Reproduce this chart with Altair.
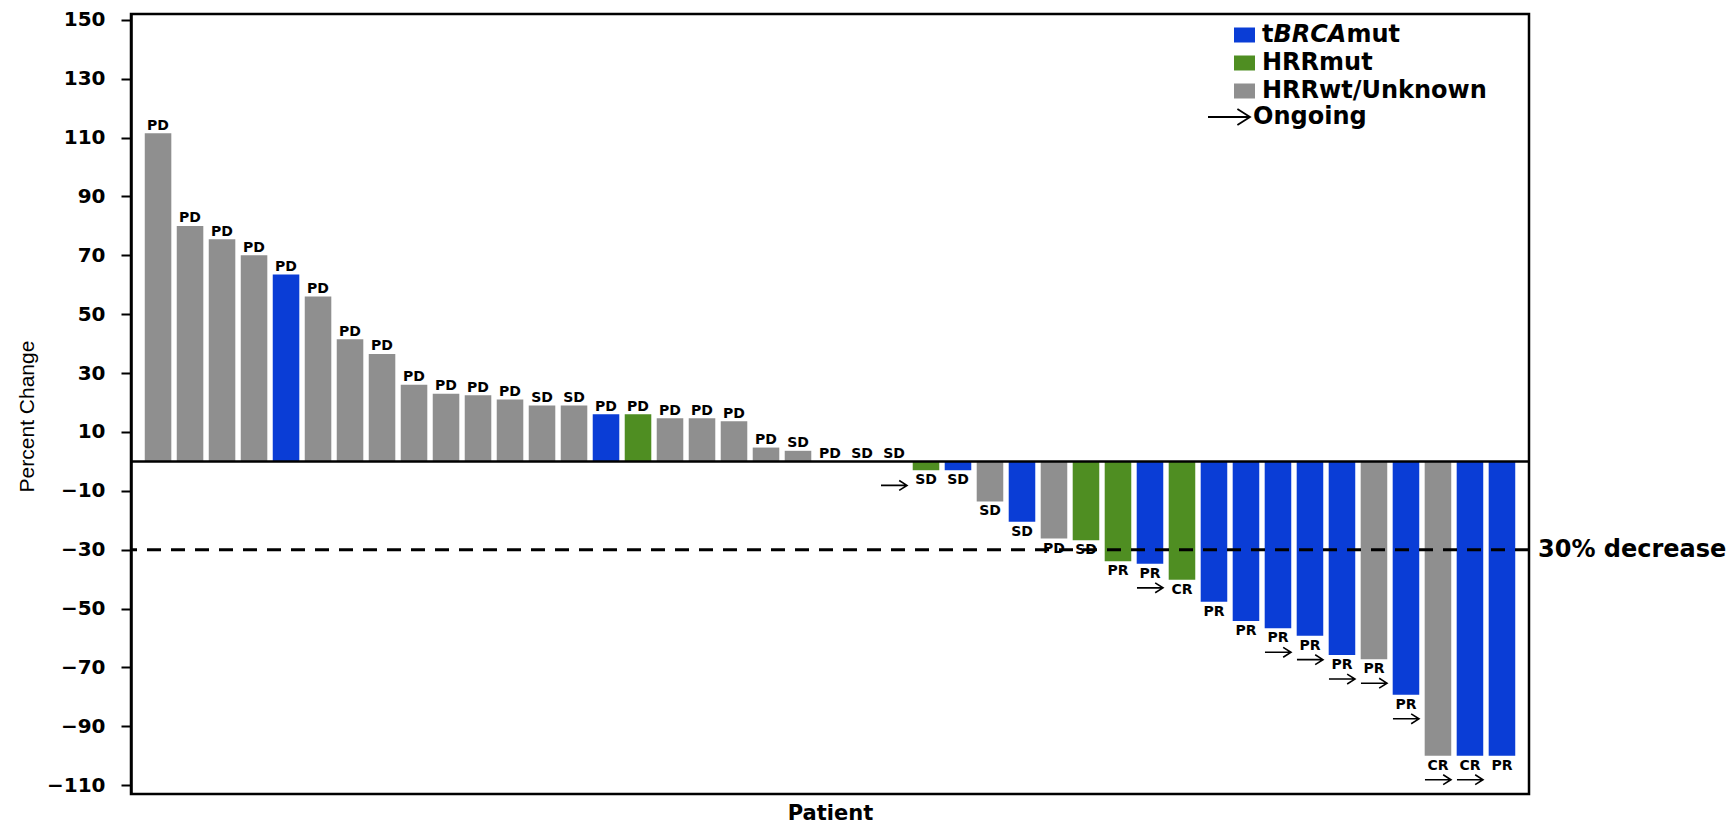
import altair as alt
import pandas as pd

# ---------------- data ----------------
patients = list(range(1, 44))
pct_change = [111.5, 80, 75.5, 70, 63.5, 56, 41.5, 36.5, 26, 23,
              22.5, 21, 19, 19, 16, 16, 14.7, 14.7, 13.6, 4.7,
              3.6, 0, 0, 0, -3, -3, -13.6, -20.5, -26.2, -26.8,
              -33.9, -34.8, -40.2, -47.7, -54.2, -56.7, -59.2, -65.8, -67.2, -79.3,
              -100, -100, -100]
B, G, U = "tBRCAmut", "HRRmut", "HRRwt/Unknown"
status = [U, U, U, U, B, U, U, U, U, U,
          U, U, U, U, B, G, U, U, U, U,
          U, U, U, U, G, B, U, B, U, G,
          G, B, G, B, B, B, B, B, U, B,
          U, B, B]
response = (["PD"] * 12 + ["SD", "SD"] + ["PD"] * 6 +
            ["SD", "PD", "SD", "SD", "SD", "SD", "SD", "SD", "PD", "SD", "PR", "PR", "CR"] +
            ["PR"] * 7 + ["CR", "CR", "PR"])
ongoing_patients = [24, 32, 36, 37, 38, 39, 40, 41, 42]

group_names = [B, G, U]
group_colors = ["#0a3dd6", "#4f8e22", "#8f8f8f"]
y_ticks = [150, 130, 110, 90, 70, 50, 30, 10, -10, -30, -50, -70, -90, -110]
threshold = [-30]
zero = [0]

df = pd.DataFrame({
    "patient": patients,
    "value": pct_change,
    "group": status,
    "response": response,
    "ongoing": [p in ongoing_patients for p in patients],
})

W, H = 1398, 780
FONT = "DejaVu Sans"

xenc = alt.X("patient:O",
             scale=alt.Scale(paddingInner=0.17, paddingOuter=0.43),
             axis=alt.Axis(labels=False, ticks=False, domain=False, title="Patient",
                           titleFont=FONT, titleFontSize=21, titleFontWeight="bold",
                           titleColor="black", titleY=19, titleBaseline="middle"))
yscale = alt.Scale(domain=[-113, 152], nice=False, zero=False)
yenc = alt.Y("value:Q", scale=yscale,
             axis=alt.Axis(values=y_ticks, grid=False, title="Percent Change",
                           labelFont=FONT, labelFontSize=20, labelFontWeight="bold",
                           labelColor="black", labelPadding=16,
                           tickSize=10, tickWidth=2, tickColor="black",
                           domainColor="black", domainWidth=2.5,
                           titleFont="Liberation Sans", titleFontSize=21,
                           titleFontWeight="normal", titleColor="black",
                           titleX=-104, titleY=402, titleAlign="center",
                           titleBaseline="middle", titleAngle=-90))
color = alt.Color("group:N", scale=alt.Scale(domain=group_names, range=group_colors),
                  legend=None)

base = alt.Chart(df)
bars = base.mark_bar().encode(x=xenc, y=yenc, color=color)

zero_line = alt.Chart(pd.DataFrame({"value": zero})).mark_rule(
    color="black", strokeWidth=2.5).encode(y=alt.Y("value:Q"))
dash_line = alt.Chart(pd.DataFrame({"value": threshold})).mark_rule(
    color="black", strokeWidth=3, strokeDash=[14, 10]).encode(y=alt.Y("value:Q"))
dash_text = alt.Chart(pd.DataFrame({"value": threshold, "t": ["30% decrease"]})).mark_text(
    align="left", baseline="middle", font=FONT, fontSize=24, fontWeight="bold",
    color="black").encode(x=alt.value(W + 9), y=alt.Y("value:Q"), text="t:N")

lab_pos = base.transform_filter("datum.value >= 0").mark_text(
    baseline="middle", dy=-7.5, font=FONT, fontSize=14, fontWeight="bold", color="black"
).encode(x="patient:O", y="value:Q", text="response:N")
lab_neg = base.transform_filter("datum.value < 0").mark_text(
    baseline="middle", dy=10, font=FONT, fontSize=14, fontWeight="bold", color="black"
).encode(x="patient:O", y="value:Q", text="response:N")

ARROW = "M -1 0 L 1 0 M 0.4 -0.38 L 1 0 L 0.4 0.38"
arrows = base.transform_filter("datum.ongoing").mark_point(
    shape=ARROW, size=676, filled=False, color="black", strokeWidth=1.6,
    opacity=1, yOffset=24).encode(x="patient:O", y="value:Q")

# ---------------- manual legend ----------------
leg_x_sq, leg_x_txt = 1103, 1131
row_y = [21, 49, 77]
legend_layers = []
for name, col, yy in zip(group_names, group_colors, row_y):
    legend_layers.append(
        alt.Chart(pd.DataFrame({"g": [name]})).mark_rect(color=col).encode(
            x=alt.value(leg_x_sq), x2=alt.value(leg_x_sq + 21),
            y=alt.value(yy - 7.5), y2=alt.value(yy + 7.5)))

LFS = 24
def leg_text(txt, x, y, italic=False):
    return alt.Chart(pd.DataFrame({"t": [txt]})).mark_text(
        align="left", baseline="middle", font=FONT, fontSize=LFS, fontWeight="bold",
        fontStyle="italic" if italic else "normal", color="black").encode(
        x=alt.value(x), y=alt.value(y), text="t:N")

w_t = 0.478 * LFS
w_brca = 3.040 * LFS
legend_layers.append(leg_text("t", leg_x_txt, row_y[0]))
legend_layers.append(leg_text("BRCA", leg_x_txt + w_t, row_y[0], italic=True))
legend_layers.append(leg_text("mut", leg_x_txt + w_t + w_brca, row_y[0]))
legend_layers.append(leg_text(G, leg_x_txt, row_y[1]))
legend_layers.append(leg_text(U, leg_x_txt, row_y[2]))
legend_layers.append(leg_text("Ongoing", 1122, 103))
legend_layers.append(
    alt.Chart(pd.DataFrame({"g": ["Ongoing"]})).mark_point(
        shape=ARROW, size=1764, filled=False, color="black", strokeWidth=1.8, opacity=1
    ).encode(x=alt.value(1098), y=alt.value(103)))

chart = alt.layer(bars, dash_line, zero_line, lab_pos, lab_neg, arrows, dash_text,
                  *legend_layers).properties(
    width=W, height=H,
    autosize=alt.AutoSizeParams(type="none"),
    padding={"left": 123, "top": 6, "right": 199, "bottom": 31},
    background="white",
).configure_view(stroke="black", strokeWidth=2.5)

chart.save("out.html", embed_options={"renderer": "svg", "actions": False})
